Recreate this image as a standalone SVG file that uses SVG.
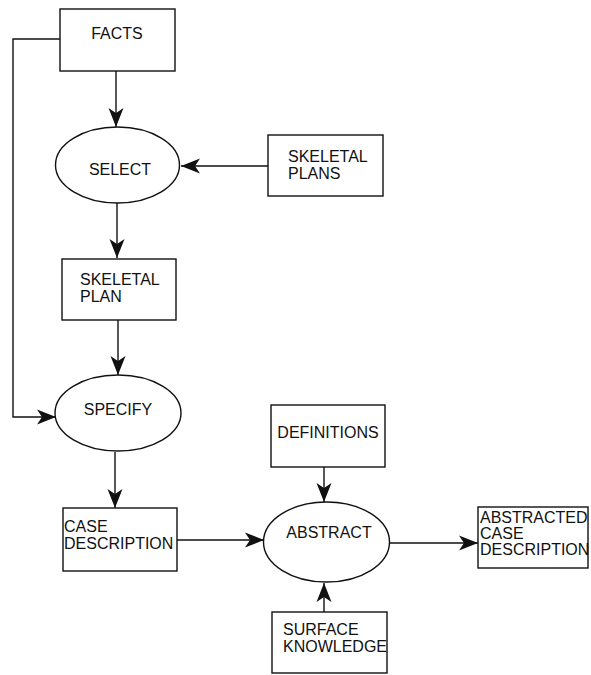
<svg xmlns="http://www.w3.org/2000/svg" width="591" height="675" viewBox="0 0 591 675">
<defs>
<style>
.box{fill:#fff;stroke:#111;stroke-width:1.4}
.ell{fill:#fff;stroke:#111;stroke-width:1.4}
.lbl{font-family:"Liberation Sans",Arial,sans-serif;font-size:16px;fill:#111}
.c{text-anchor:middle}
.con{fill:none;stroke:#111;stroke-width:1.4}
</style>
<marker id="ah" markerUnits="userSpaceOnUse" markerWidth="20" markerHeight="16" refX="19" refY="8" orient="auto">
<path d="M0,0.5 L19,8 L0,15.5 L5,8 Z" fill="#111"/>
</marker>
</defs>
<rect width="591" height="675" fill="#fff"/>
<g id="connectors">
<path class="con" d="M116,71 V127" marker-end="url(#ah)"/>
<path class="con" d="M268,166 H181" marker-end="url(#ah)"/>
<path class="con" d="M117,203 V258" marker-end="url(#ah)"/>
<path class="con" d="M118,320 V375" marker-end="url(#ah)"/>
<path class="con" d="M60,39 H13 V417 H56" marker-end="url(#ah)"/>
<path class="con" d="M115,452 V508" marker-end="url(#ah)"/>
<path class="con" d="M177,540 H264" marker-end="url(#ah)"/>
<path class="con" d="M324,467 V502" marker-end="url(#ah)"/>
<path class="con" d="M324,612 V583" marker-end="url(#ah)"/>
<path class="con" d="M390,543 H478" marker-end="url(#ah)"/>
</g>
<g id="facts">
<rect class="box" x="60" y="9" width="115" height="62"/>
<text class="lbl c" x="117" y="39">FACTS</text>
</g>
<g id="select">
<ellipse class="ell" cx="117.5" cy="165" rx="62" ry="38"/>
<text class="lbl c" x="120" y="175">SELECT</text>
</g>
<g id="skeletal-plans">
<rect class="box" x="268" y="135" width="115" height="61"/>
<text class="lbl" x="288" y="162">SKELETAL</text>
<text class="lbl" x="288" y="179">PLANS</text>
</g>
<g id="skeletal-plan">
<rect class="box" x="62" y="259" width="114" height="61"/>
<text class="lbl" x="80" y="285">SKELETAL</text>
<text class="lbl" x="80" y="302">PLAN</text>
</g>
<g id="specify">
<ellipse class="ell" cx="118" cy="413" rx="63" ry="38"/>
<text class="lbl c" x="118" y="415">SPECIFY</text>
</g>
<g id="case-description">
<rect class="box" x="63" y="508" width="114" height="63"/>
<text class="lbl" x="64" y="532">CASE</text>
<text class="lbl" x="64" y="549">DESCRIPTION</text>
</g>
<g id="definitions">
<rect class="box" x="271" y="405" width="114" height="62"/>
<text class="lbl c" x="328" y="438">DEFINITIONS</text>
</g>
<g id="abstract">
<ellipse class="ell" cx="326.5" cy="542" rx="63" ry="40"/>
<text class="lbl c" x="329" y="538">ABSTRACT</text>
</g>
<g id="surface-knowledge">
<rect class="box" x="272" y="612" width="115" height="61"/>
<text class="lbl" x="283" y="635">SURFACE</text>
<text class="lbl" x="283" y="652">KNOWLEDGE</text>
</g>
<g id="abstracted-case-description">
<rect class="box" x="478" y="507" width="110" height="61"/>
<text class="lbl" x="480" y="523">ABSTRACTED</text>
<text class="lbl" x="480" y="539">CASE</text>
<text class="lbl" x="480" y="555">DESCRIPTION</text>
</g>
</svg>
